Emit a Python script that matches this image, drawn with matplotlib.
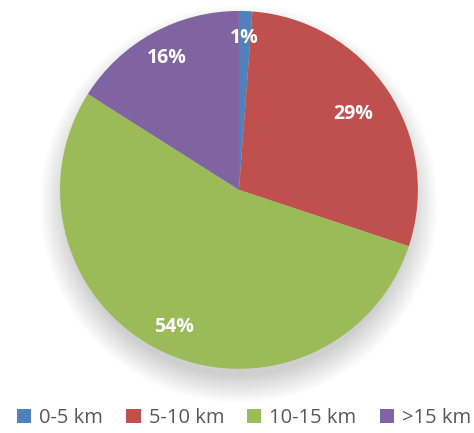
import numpy as np
import matplotlib.pyplot as plt
from matplotlib.patches import Circle

# data
labels = ['0-5 km', '5-10 km', '10-15 km', '>15 km']
shares = [1.2, 28.9, 53.9, 16.0]
pct_text = ['1%', '29%', '54%', '16%']
colors = ['#4F81BD', '#C0504D', '#9BBB59', '#8064A2']
label_dist = [0.85, 0.77, 0.85, 0.84]

fig = plt.figure(figsize=(4.74, 4.33), dpi=100)
ax = fig.add_axes([0.1266, 0.148, 0.755, 0.827])

# soft shadow under the pie
for k in range(16):
    ax.add_patch(Circle((0, -0.08), 0.96 + 0.01 * k, color='black',
                        alpha=0.011, lw=0, zorder=0, clip_on=False))

wedges, _ = ax.pie(shares, colors=colors, startangle=90, counterclock=False,
                   wedgeprops=dict(linewidth=0))
for w in wedges:
    w.set_zorder(2)

# percentage labels, placed along each wedge's mid angle
for w, txt, d in zip(wedges, pct_text, label_dist):
    ang = np.deg2rad((w.theta1 + w.theta2) / 2)
    ax.text(d * np.cos(ang), d * np.sin(ang), txt, ha='center', va='center',
            color='white', fontsize=14, fontweight='bold', family='Open Sans',
            zorder=3)

ax.set_xlim(-1, 1)
ax.set_ylim(-1, 1)
ax.set_aspect('equal')
ax.axis('off')

fig.legend(wedges, labels, loc='center', bbox_to_anchor=(0.515, 0.035),
           ncol=4, frameon=False, handlelength=0.7, handleheight=0.7,
           handletextpad=0.4, columnspacing=1.15,
           prop=dict(family='Open Sans', size=14.5), labelcolor='#595959')

fig.savefig('out.png', dpi=100)
